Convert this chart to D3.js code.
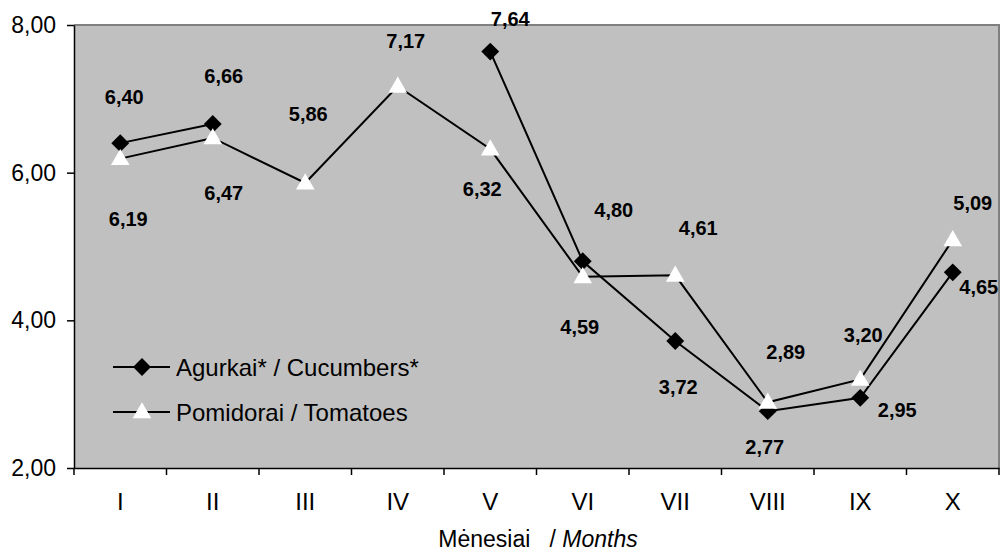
<!DOCTYPE html>
<html>
<head>
<meta charset="utf-8">
<script src="https://cdn.jsdelivr.net/npm/d3@7"></script>
<style>
  html, body { margin: 0; padding: 0; background: #fff; }
  svg { display: block; font-family: "Liberation Sans", Arial, sans-serif; }
</style>
</head>
<body>
<svg id="chart" width="1001" height="553"></svg>
<script>
// ---- data ----
const months = ["I", "II", "III", "IV", "V", "VI", "VII", "VIII", "IX", "X"];
const cucumbers = [6.40, 6.66, null, null, 7.64, 4.80, 3.72, 2.77, 2.95, 4.65];
const tomatoes = [6.19, 6.47, 5.86, 7.17, 6.32, 4.59, 4.61, 2.89, 3.20, 5.09];
const yTicks = [2, 4, 6, 8];
const seriesNames = ["Agurkai* / Cucumbers*", "Pomidorai / Tomatoes"];

// ---- layout (label placement, not data) ----
const cucLabelOffsets = [[4,-46],[11,-48],null,null,[20,-33],[31,-51],[3,46],[-3,36],[37,12],[26,15]];
const tomLabelOffsets = [[8,60],[11,55],[3,-69],[8,-45],[-8,40],[-3,50],[23,-47],[18,-50],[3,-44],[20,-37]];

const svg = d3.select("#chart");
const pLeft = 74, pRight = 999, pTop = 25, pBottom = 468;

const x = d3.scaleBand().domain(months).range([pLeft, pRight]).paddingInner(0).paddingOuter(0);
const y = d3.scaleLinear().domain([2, 8]).range([pBottom, pTop]);
const cx = m => x(m) + x.bandwidth() / 2;
const fmt = v => d3.format(".2f")(v).replace(".", ",");

// plot area
svg.append("rect").attr("x", pLeft).attr("y", pTop).attr("width", pRight - pLeft).attr("height", pBottom - pTop)
  .attr("fill", "#C0C0C0");
svg.append("path").attr("d", `M${pLeft},${pTop}H${pRight}V${pBottom}`)
  .attr("fill", "none").attr("stroke", "#808080").attr("stroke-width", 2);

// y axis
const yAxis = d3.axisLeft(y).tickValues(yTicks).tickFormat(fmt).tickSize(7).tickSizeOuter(0).tickPadding(11);
const gy = svg.append("g").attr("transform", `translate(${pLeft},0)`).call(yAxis);
gy.select(".domain").attr("stroke", "#000").attr("stroke-width", 1.5);
gy.selectAll(".tick line").attr("stroke", "#000").attr("stroke-width", 1.5);
gy.selectAll(".tick text").attr("font-size", 23).attr("fill", "#000")
  .attr("font-family", "Liberation Sans, Arial, sans-serif");

// x axis: labels at centers, ticks at band boundaries
const xAxis = d3.axisBottom(x).tickSize(0).tickSizeOuter(0).tickPadding(25);
const gx = svg.append("g").attr("transform", `translate(0,${pBottom})`).call(xAxis);
gx.select(".domain").attr("stroke", "#000").attr("stroke-width", 1.5);
gx.selectAll(".tick text").attr("font-size", 24).attr("fill", "#000")
  .attr("font-family", "Liberation Sans, Arial, sans-serif");
const boundaries = months.map(m => x(m)).concat([x(months[months.length - 1]) + x.bandwidth()]);
svg.append("g").selectAll("line").data(boundaries).join("line")
  .attr("x1", d => d).attr("x2", d => d).attr("y1", pBottom).attr("y2", pBottom + 7)
  .attr("stroke", "#000").attr("stroke-width", 1.5);

// axis title
const title = svg.append("text").attr("x", 538).attr("y", 547).attr("text-anchor", "middle")
  .attr("font-size", 23).attr("fill", "#000").attr("style", "white-space: pre");
title.append("tspan").text("Mėnesiai   / ");
title.append("tspan").text("Months").attr("font-style", "italic");

// series
const line = d3.line().defined(d => d.v != null).x(d => cx(d.m)).y(d => y(d.v));
const cucData = months.map((m, i) => ({ m, v: cucumbers[i], o: cucLabelOffsets[i] }));
const tomData = months.map((m, i) => ({ m, v: tomatoes[i], o: tomLabelOffsets[i] }));

const diamond = d3.symbol().type(d3.symbolSquare).size(160);
const tri = d3.symbol().type(d3.symbolTriangle).size(150);

function drawSeries(data, kind) {
  svg.append("path").datum(data).attr("d", line).attr("fill", "none")
    .attr("stroke", "#000").attr("stroke-width", 2);
  const pts = data.filter(d => d.v != null);
  if (kind === "diamond") {
    svg.append("g").selectAll("path").data(pts).join("path")
      .attr("d", diamond).attr("fill", "#000")
      .attr("transform", d => `translate(${cx(d.m)},${y(d.v)}) rotate(45)`);
  } else {
    svg.append("g").selectAll("path").data(pts).join("path")
      .attr("d", tri).attr("fill", "#fff")
      .attr("transform", d => `translate(${cx(d.m)},${y(d.v) + 1})`);
  }
}
drawSeries(cucData, "diamond");
drawSeries(tomData, "triangle");

// data labels
function drawLabels(data) {
  svg.append("g").selectAll("text").data(data.filter(d => d.v != null)).join("text")
    .attr("x", d => cx(d.m) + d.o[0]).attr("y", d => y(d.v) + d.o[1])
    .attr("text-anchor", "middle").attr("dominant-baseline", "central")
    .attr("font-size", 20).attr("font-weight", "bold").attr("fill", "#000")
    .text(d => fmt(d.v));
}
drawLabels(cucData);
drawLabels(tomData);

// legend
const legY = [367, 412];
const lg = svg.append("g");
seriesNames.forEach((name, i) => {
  lg.append("line").attr("x1", 113).attr("x2", 170).attr("y1", legY[i]).attr("y2", legY[i])
    .attr("stroke", "#000").attr("stroke-width", 2);
  if (i === 0) {
    lg.append("path").attr("d", diamond).attr("fill", "#000")
      .attr("transform", `translate(142,${legY[i]}) rotate(45)`);
  } else {
    lg.append("path").attr("d", tri).attr("fill", "#fff")
      .attr("transform", `translate(142,${legY[i] + 1})`);
  }
  lg.append("text").attr("x", 176).attr("y", legY[i]).attr("dominant-baseline", "central")
    .attr("font-size", 24).attr("fill", "#000").text(name);
});
</script>
</body>
</html>
